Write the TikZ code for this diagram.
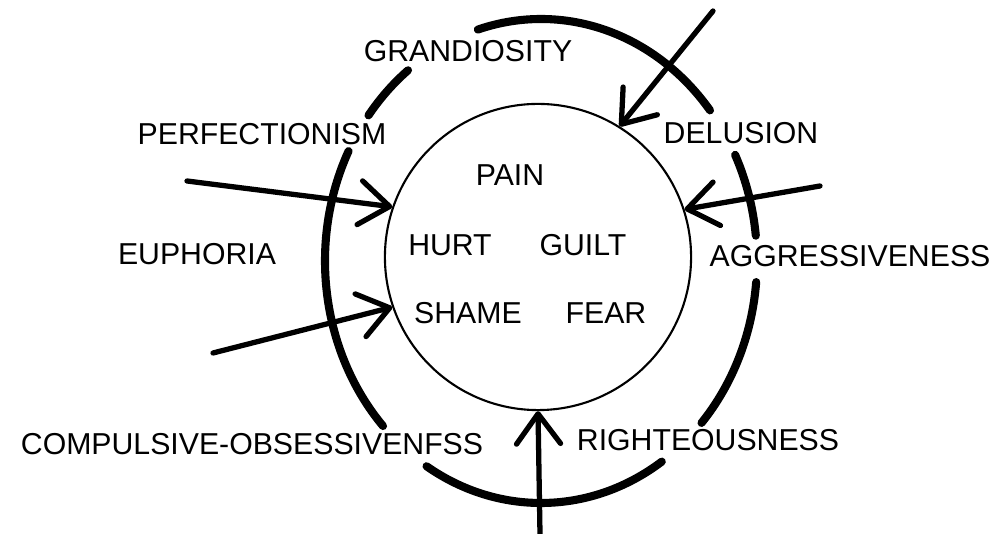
\documentclass[tikz,border=0pt]{standalone}
\usepackage{fontspec}
\setsansfont{Liberation Sans}
\usetikzlibrary{arrows.meta}

\begin{document}
\begin{tikzpicture}[
  x=0.01cm, y=-0.01cm,
  font=\sffamily\fontsize{8.6}{10}\selectfont,
  hub/.style={circle, draw, line width=0.6pt, minimum size=3.06cm, inner sep=0pt},
  ring/.style={line width=2.3pt, line cap=round},
  push/.style={-{Straight Barb[length=3mm, width=4.4mm, round]}, line width=1.5pt, line cap=round},
  word/.style={inner sep=0pt}
]
  \useasboundingbox (0,0) rectangle (996,534);

  \node[hub] (core) at (538,257) {};
  \node[word] (pain)  at (510,175) {PAIN};
  \node[word] (hurt)  at (450,245) {HURT};
  \node[word] (guilt) at (583,245) {GUILT};
  \node[word] (shame) at (468,313) {SHAME};
  \node[word] (fear)  at (606,313) {FEAR};

  % broken outer ring
  \coordinate (mid) at (541,261);
  \draw[ring] (mid) ++(-107:216 and 242) arc[start angle=-107, end angle=-38.5, x radius=216, y radius=242];
  \draw[ring] (mid) ++(-143:216 and 242) arc[start angle=-143, end angle=-128, x radius=216, y radius=242];
  \draw[ring] (mid) ++(-223:216 and 242) arc[start angle=-223, end angle=-153, x radius=216, y radius=242];
  \draw[ring] (mid) ++(-304:216 and 242) arc[start angle=-304, end angle=-238, x radius=216, y radius=242];
  \draw[ring] (mid) ++(-355:216 and 242) arc[start angle=-355, end angle=-318, x radius=216, y radius=242];
  \draw[ring] (mid) ++(-26:216 and 242) arc[start angle=-26, end angle=-6, x radius=216, y radius=242];

  \node[word] (grand)     at (468,51)  {GRANDIOSITY};
  \node[word] (perf)      at (262,134) {PERFECTIONISM};
  \node[word] (delu)      at (741,133) {DELUSION};
  \node[word] (euph)      at (197,254) {EUPHORIA};
  \node[word] (aggr)      at (850,256) {AGGRESSIVENESS};
  \node[word] (comp)      at (252,444) {COMPULSIVE-OBSESSIVENFSS};
  \node[word] (righteous) at (708,440) {RIGHTEOUSNESS};

  % arrows into the core
  \coordinate (fromTop) at (713,11);
  \coordinate (fromUL)  at (187,181);
  \coordinate (fromLL)  at (213,353);
  \coordinate (fromR)   at (820,186);
  \coordinate (fromBot) at (540,534);

  \draw[push] (fromTop) -- (core.58);
  \draw[push] (fromUL) -- (core.161);
  \draw[push] (fromLL) -- (core.199);
  \draw[push] (fromR) -- (core.18);
  \draw[push] (fromBot) -- (core.south);

\end{tikzpicture}
\end{document}
